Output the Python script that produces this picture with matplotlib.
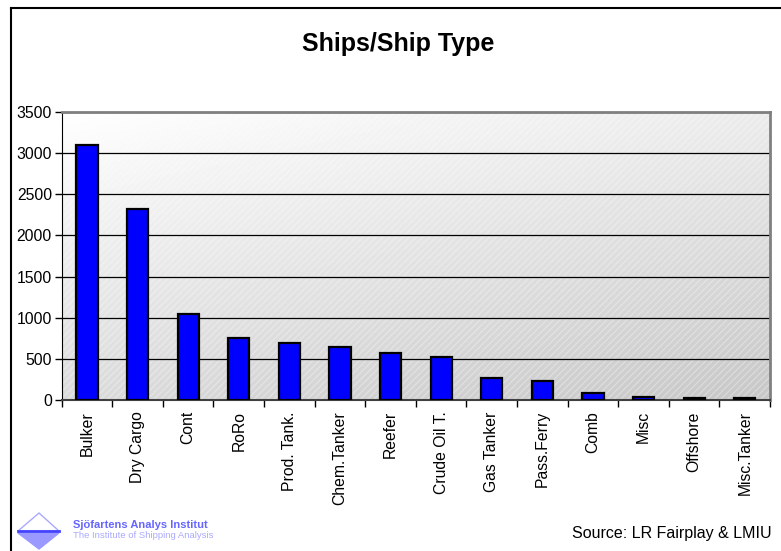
import numpy as np
import matplotlib
matplotlib.use('Agg')
import matplotlib.pyplot as plt
from matplotlib.patches import Polygon, Rectangle
from matplotlib.lines import Line2D

plt.rcParams['font.family'] = ['Liberation Sans', 'DejaVu Sans']

ship_types = ['Bulker', 'Dry Cargo', 'Cont', 'RoRo', 'Prod. Tank.', 'Chem.Tanker',
              'Reefer', 'Crude Oil T.', 'Gas Tanker', 'Pass.Ferry', 'Comb', 'Misc',
              'Offshore', 'Misc.Tanker']
ships = [3094, 2324, 1043, 750, 697, 648, 567, 518, 263, 236, 89, 40, 26, 26]
y_ticks = [0, 500, 1000, 1500, 2000, 2500, 3000, 3500]

fig = plt.figure(figsize=(7.81, 5.51), dpi=100)
ax = fig.add_axes([0.079, 0.274, 0.907, 0.5227])

# gradient background: white top-left -> grey bottom-right
gx, gy = np.meshgrid(np.linspace(0, 1, 200), np.linspace(0, 1, 200))
grad = 1.0 - 0.22 * (0.35 * gx + 0.65 * gy)
ax.imshow(grad, cmap='gray', vmin=0, vmax=1, extent=[0, 1, 0, 1],
          transform=ax.transAxes, aspect='auto', zorder=0, origin='upper')
ax.add_patch(Rectangle((0, 0), 1, 1, transform=ax.transAxes, fill=False,
                       hatch='/////', edgecolor='white', linewidth=0, alpha=0.3, zorder=0.5))

x = np.arange(len(ship_types))
ax.bar(x, ships, width=0.42, color='#0000ff', edgecolor='black', linewidth=1.6, zorder=3)

ax.set_xlim(-0.5, len(ship_types) - 0.5)
ax.set_ylim(0, 3500)
ax.set_yticks(y_ticks)
ax.set_yticklabels([str(v) for v in y_ticks], fontsize=11.3)
ax.yaxis.grid(True, color='black', linewidth=0.9)
ax.set_axisbelow(True)

ax.set_xticks(x)
ax.set_xticklabels(ship_types, rotation=90, fontsize=11.3)
ax.tick_params(axis='x', length=0, pad=8)
ax.set_xticks(np.arange(len(ship_types) + 1) - 0.5, minor=True)
ax.tick_params(axis='x', which='minor', length=5, width=1, direction='out')
ax.tick_params(axis='y', length=5, width=1, direction='out', pad=2)

for s in ['top', 'right']:
    ax.spines[s].set_color('#808080')
    ax.spines[s].set_linewidth(2)
ax.spines['left'].set_color('black')
ax.spines['bottom'].set_color('#404040')
ax.spines['bottom'].set_linewidth(1.5)

fig.text(0.51, 0.92, 'Ships/Ship Type', ha='center', va='center',
         fontsize=18, fontweight='bold')
fig.text(0.988, 0.031, 'Source: LR Fairplay & LMIU', ha='right', va='center', fontsize=11.5)

# outer frame
fig.add_artist(Line2D([0.014, 1.0], [0.985, 0.985], color='black', linewidth=1.5))
fig.add_artist(Line2D([0.014, 0.014], [0.0, 0.985], color='black', linewidth=1.5))

# logo
def fpt(px, py):
    return (px / 781, 1 - py / 551)

fig.add_artist(Polygon([fpt(39, 513), fpt(59, 531), fpt(18, 531)], closed=True,
                       facecolor='white', edgecolor='#aaaaff', linewidth=1))
fig.add_artist(Polygon([fpt(18, 533), fpt(59, 533), fpt(39, 549)], closed=True,
                       facecolor='#9999ff', edgecolor='#9999ff', linewidth=1))
fig.add_artist(Line2D([fpt(18, 531)[0], fpt(59, 531)[0]], [fpt(0, 531)[1]] * 2,
                      color='#4444ff', linewidth=2))
fig.text(73 / 781, 1 - 525 / 551, 'Sjöfartens Analys Institut', fontsize=8,
         fontweight='bold', color='#6666ff', va='center')
fig.text(73 / 781, 1 - 535 / 551, 'The Institute of Shipping Analysis', fontsize=6.8,
         color='#aaaaff', va='center')

plt.savefig('out.png', dpi=100)
